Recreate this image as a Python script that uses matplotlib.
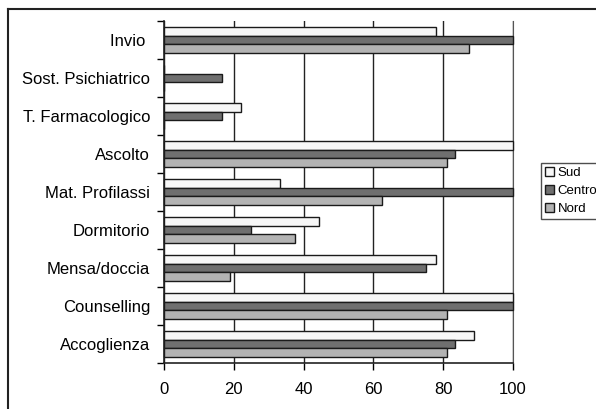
import numpy as np
import matplotlib.pyplot as plt
from matplotlib.lines import Line2D

plt.rcParams['font.family'] = ['Liberation Sans', 'DejaVu Sans']

categories = ['Invio ', 'Sost. Psichiatrico', 'T. Farmacologico', 'Ascolto',
              'Mat. Profilassi', 'Dormitorio', 'Mensa/doccia', 'Counselling',
              'Accoglienza']
sud = [77.8, 0, 22.2, 100, 33.3, 44.4, 77.8, 100, 88.9]
centro = [100, 16.7, 16.7, 83.3, 100, 25.0, 75.0, 100, 83.3]
nord = [87.5, 0, 0, 81.2, 62.5, 37.5, 18.8, 81.2, 81.2]

series = [('Sud', sud, '#f7f7f7'), ('Centro', centro, '#6f6f6f'), ('Nord', nord, '#b3b3b3')]

fig = plt.figure(figsize=(5.96, 4.09), dpi=100)
ax = fig.add_axes([0.2752, 0.1125, 0.5855, 0.8362])

n = len(categories)
y = np.arange(n)
h = 0.23
for k, (name, vals, col) in enumerate(series):
    ax.barh(y + (k - 1) * h, vals, height=h, color=col, edgecolor='#1a1a1a',
            linewidth=1.0, label=name, zorder=3, clip_on=False)

ax.set_xlim(0, 100)
ax.set_ylim(n - 0.5, -0.5)
ax.set_xticks([0, 20, 40, 60, 80, 100])
ax.set_yticks(y)
ax.set_yticklabels(categories, fontsize=12)
ax.set_yticks(np.arange(-0.5, n, 1), minor=True)
ax.tick_params(axis='y', which='major', length=0, pad=10)
ax.tick_params(axis='y', which='minor', length=5, width=1, direction='out')
ax.tick_params(axis='x', length=5, width=1, labelsize=12, pad=9)
ax.xaxis.grid(True, color='#222222', linewidth=1, zorder=0)
ax.spines['top'].set_visible(False)
ax.spines['right'].set_color('#555555')
for s in ['left', 'bottom']:
    ax.spines[s].set_linewidth(1.2)
    ax.spines[s].set_color('#222222')

leg = fig.legend(loc='upper left', bbox_to_anchor=(0.907, 0.602), fontsize=9.5,
                 frameon=True, fancybox=False, handlelength=0.7, handleheight=0.7,
                 handletextpad=0.3, borderpad=0.3, labelspacing=0.45,
                 borderaxespad=0)
leg.get_frame().set_edgecolor('#222222')
leg.get_frame().set_linewidth(1)

# outer chart border (top and left visible)
fig.add_artist(Line2D([0.0134, 1.0], [0.978, 0.978], color='#222222', lw=1.5))
fig.add_artist(Line2D([0.0134, 0.0134], [0.0, 0.978], color='#222222', lw=1.5))

fig.savefig('out.png', dpi=100)
